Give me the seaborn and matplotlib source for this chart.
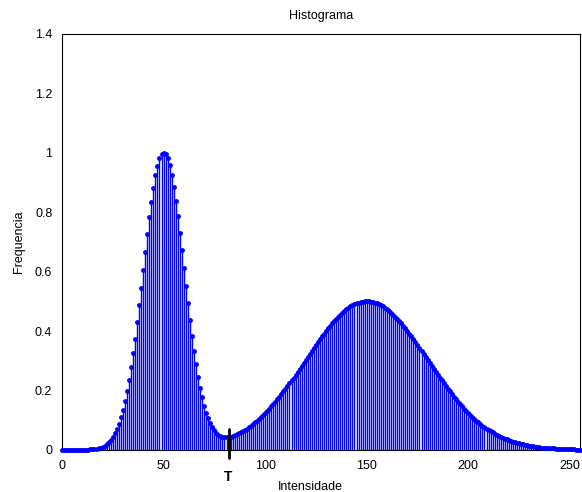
import numpy as np
import pandas as pd
import matplotlib
matplotlib.use('Agg')
import matplotlib.pyplot as plt
import seaborn as sns

# Histogram values (intensity 0..255)
intensidade = list(range(256))
frequencia = [
    0.001, 0.001, 0.001, 0.001, 0.001, 0.001, 0.001, 0.001, 0.001, 0.001,
    0.001, 0.001, 0.001, 0.001, 0.002, 0.002, 0.003, 0.004, 0.006, 0.008,
    0.011, 0.015, 0.020, 0.026, 0.034, 0.044, 0.056, 0.071, 0.089, 0.110,
    0.135, 0.164, 0.198, 0.236, 0.278, 0.325, 0.375, 0.430, 0.487, 0.546,
    0.607, 0.667, 0.726, 0.783, 0.836, 0.883, 0.924, 0.957, 0.981, 0.996,
    1.000, 0.997, 0.982, 0.959, 0.926, 0.885, 0.839, 0.787, 0.731, 0.672,
    0.613, 0.552, 0.494, 0.438, 0.383, 0.334, 0.288, 0.247, 0.210, 0.177,
    0.149, 0.126, 0.106, 0.090, 0.076, 0.066, 0.058, 0.052, 0.048, 0.045,
    0.044, 0.044, 0.044, 0.045, 0.047, 0.050, 0.053, 0.056, 0.060, 0.063,
    0.068, 0.072, 0.077, 0.082, 0.088, 0.093, 0.099, 0.105, 0.111, 0.118,
    0.125, 0.132, 0.139, 0.147, 0.154, 0.162, 0.171, 0.179, 0.188, 0.197,
    0.206, 0.215, 0.224, 0.234, 0.243, 0.253, 0.263, 0.273, 0.283, 0.293,
    0.303, 0.313, 0.323, 0.333, 0.343, 0.353, 0.363, 0.373, 0.382, 0.391,
    0.400, 0.409, 0.418, 0.426, 0.434, 0.441, 0.448, 0.455, 0.462, 0.468,
    0.473, 0.478, 0.483, 0.487, 0.490, 0.493, 0.496, 0.498, 0.499, 0.500,
    0.500, 0.500, 0.499, 0.498, 0.496, 0.493, 0.490, 0.487, 0.483, 0.478,
    0.473, 0.468, 0.462, 0.455, 0.448, 0.441, 0.434, 0.426, 0.418, 0.409,
    0.400, 0.391, 0.382, 0.373, 0.363, 0.353, 0.343, 0.333, 0.323, 0.313,
    0.303, 0.293, 0.283, 0.273, 0.263, 0.253, 0.243, 0.234, 0.224, 0.215,
    0.206, 0.197, 0.188, 0.179, 0.171, 0.162, 0.154, 0.147, 0.139, 0.132,
    0.125, 0.118, 0.111, 0.105, 0.099, 0.093, 0.088, 0.082, 0.077, 0.072,
    0.068, 0.063, 0.059, 0.055, 0.051, 0.048, 0.044, 0.041, 0.038, 0.036,
    0.033, 0.030, 0.028, 0.026, 0.024, 0.022, 0.020, 0.019, 0.017, 0.016,
    0.014, 0.013, 0.012, 0.011, 0.010, 0.009, 0.008, 0.008, 0.007, 0.006,
    0.006, 0.005, 0.005, 0.004, 0.004, 0.003, 0.003, 0.003, 0.002, 0.002,
    0.002, 0.002, 0.002, 0.001, 0.001, 0.001,
]

# threshold marker
limiar = 82
limiar_label = 'T'

x_ticks = [0, 50, 100, 150, 200, 250]
y_ticks = [0, 0.2, 0.4, 0.6, 0.8, 1.0, 1.2, 1.4]
y_ticklabels = ['0', '0.2', '0.4', '0.6', '0.8', '1', '1.2', '1.4']

sns.set_style('white')
plt.rcParams['font.family'] = ['Liberation Sans', 'DejaVu Sans']
plt.rcParams['text.color'] = 'black'
plt.rcParams['axes.labelcolor'] = 'black'
plt.rcParams['xtick.color'] = 'black'
plt.rcParams['ytick.color'] = 'black'

df = pd.DataFrame({'Intensidade': intensidade, 'Frequencia': frequencia})

fig = plt.figure(figsize=(5.82, 4.92), dpi=100)
ax = fig.add_axes([0.1065, 0.0854, 0.890, 0.8455])

# stems
ax.vlines(df['Intensidade'], 0, df['Frequencia'], color='blue', linewidth=1.0)
# stem heads
sns.scatterplot(data=df, x='Intensidade', y='Frequencia', ax=ax, color='blue',
                marker='o', s=8, edgecolor='blue', linewidth=0.6, zorder=3,
                clip_on=False)

ax.set_xlim(0, 255)
ax.set_ylim(0, 1.4)
ax.set_xticks(x_ticks)
ax.set_yticks(y_ticks)
ax.set_yticklabels(y_ticklabels)
ax.tick_params(direction='in', length=3, labelsize=9, color='black',
               labelcolor='black')
ax.tick_params(axis='y', pad=7)
ax.tick_params(axis='x', pad=7)
for side in ['top', 'right', 'bottom', 'left']:
    ax.spines[side].set_visible(True)
    ax.spines[side].set_color('black')
    ax.spines[side].set_linewidth(0.8)

ax.set_title('Histograma', fontsize=9, pad=11, color='black')
ax.set_xlabel('Intensidade', fontsize=9, color='black')
ax.xaxis.set_label_coords(0.48, -0.074)
ax.set_ylabel('Frequencia', fontsize=9, labelpad=7, color='black')

# threshold line and label
idx = intensidade.index(limiar)
ax.plot([limiar, limiar], [frequencia[idx] + 0.027, -0.027], color='black',
        linewidth=2, clip_on=False, zorder=4)
ax.text(limiar, -0.092, limiar_label, ha='center', va='center', fontsize=10,
        fontweight='bold', color='black', clip_on=False)

fig.savefig('out.png', dpi=100)
plt.close(fig)
